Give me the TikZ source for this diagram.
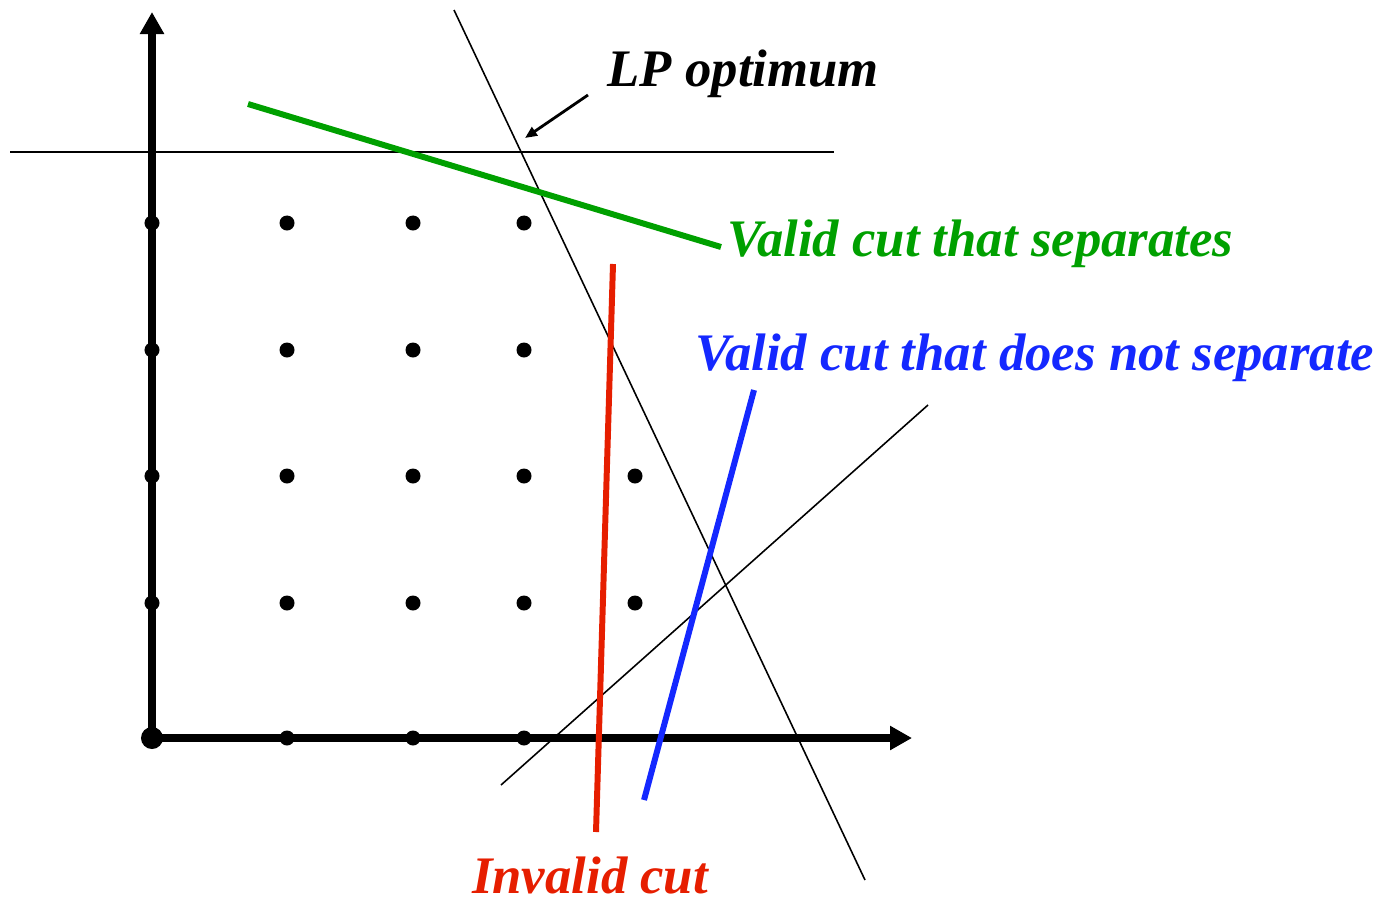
\documentclass[tikz,border=0pt]{standalone}
\usepackage{fontspec}
\setmainfont{Liberation Serif}
\usetikzlibrary{arrows.meta}

\definecolor{cutgreen}{RGB}{0,160,0}
\definecolor{cutred}{RGB}{230,30,0}
\definecolor{cutblue}{RGB}{20,40,255}

\begin{document}
\begin{tikzpicture}[x=0.01cm,y=-0.01cm,
    axis/.style={line width=2pt,-{Triangle[length=0.22cm,width=0.23cm]}},
    bound/.style={line width=0.45pt},
    cut/.style={line width=1.7pt},
    pt/.style={circle,fill=black,inner sep=0pt,minimum size=0.15cm},
    lbl/.style={font=\fontsize{15}{18}\selectfont\bfseries\itshape,inner sep=0pt}]
    \useasboundingbox (0,0) rectangle (1382,900);

    % axes
    \draw[axis] (152,738) -- (152,12);
    \draw[axis] (152,738) -- (912,738);
    \fill (152,738) circle (0.11cm);

    % integer points
    \foreach \y in {223,350}
        \foreach \x in {152,287,413,524}
            \node[pt] at (\x,\y) {};
    \foreach \y in {476,603}
        \foreach \x in {152,287,413,524,635}
            \node[pt] at (\x,\y) {};
    \foreach \x in {287,413,524}
        \node[pt] at (\x,738) {};

    % LP constraints
    \draw[bound] (10,152) -- (834,152);
    \draw[bound] (454,10) -- (865,880);
    \draw[bound] (501,785) -- (928,405);
    \coordinate (opt) at (525,138);

    % cuts
    \draw[cut,cutgreen] (248,104) -- (721,247);
    \draw[cut,cutred] (613,264) -- (596,832);
    \draw[cut,cutblue] (754,390) -- (644,800);

    % labels
    \node[lbl,anchor=west] (lp) at (607,74) {LP optimum};
    \node[lbl,anchor=west,cutgreen] (sep) at (727,244) {Valid cut that separates};
    \node[lbl,anchor=west,cutblue] (nosep) at (695,358) {Valid cut that does not separate};
    \node[lbl,cutred] (inv) at (590,875) {Invalid cut};
    \draw[line width=0.8pt,-{Triangle[length=0.12cm,width=0.1cm]}] (588,95) -- (opt);
\end{tikzpicture}
\end{document}
